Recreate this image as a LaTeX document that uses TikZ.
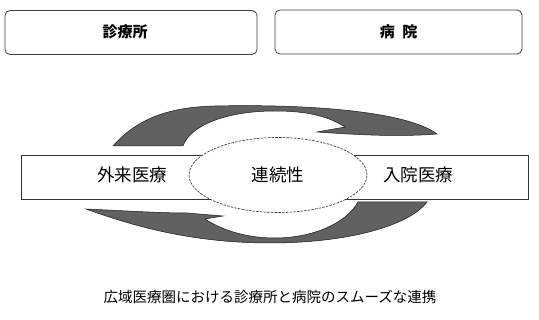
\documentclass[tikz,border=0pt]{standalone}
\usepackage{fontspec}
\usetikzlibrary{shapes.geometric}
\setmainfont{Noto Sans CJK JP}
\begin{document}
\begin{tikzpicture}[x=1pt,y=-1pt]
\useasboundingbox[fill=white] (0,0) rectangle (539,320);
\tikzset{
  topbox/.style={draw=black!75, line width=0.8pt, rounded corners=5pt, minimum height=44pt, inner sep=0pt},
  bandbox/.style={draw=black!80, line width=0.8pt, fill=white, minimum width=507pt, minimum height=44pt, inner sep=0pt},
  ovalbox/.style={ellipse, draw=black!85, line width=0.6pt, dash pattern=on 2.5pt off 1.2pt, fill=white, minimum width=178pt, minimum height=75pt, inner sep=0pt},
  arrowshape/.style={fill=black!62, draw=black!90, line width=0.5pt},
  headtxt/.style={font=\fontsize{15}{15}\selectfont\bfseries},
  midtxt/.style={font=\fontsize{17.5}{17.5}\selectfont},
  captxt/.style={font=\fontsize{14.5}{14.5}\selectfont},
}
% top boxes
\node[topbox, minimum width=252pt] (clinic) at (131,32.5) {};
\node[headtxt] (clinictxt) at (125,32) {診療所};
\node[topbox, minimum width=247pt, headtxt] (hospital) at (398.5,32) {病\hspace{0.5em}院};
% arrows
\path[arrowshape] (113,146) .. controls (135,121) and (165,107) .. (215,106)
  .. controls (300,104) and (405,110) .. (437,134)
  .. controls (400,137) and (360,135) .. (317,132)
  -- (345,127)
  .. controls (325,114) and (300,111) .. (275,111)
  .. controls (225,111) and (190,126) .. (183,146) -- cycle;
\path[arrowshape] (86,209) .. controls (130,211) and (160,213) .. (187,213)
  -- (223,216) -- (205,219)
  .. controls (225,232) and (250,238) .. (275,238)
  .. controls (310,238) and (345,225) .. (358,202)
  -- (427,202)
  .. controls (410,225) and (350,243) .. (270,243)
  .. controls (190,243) and (130,225) .. (86,209) -- cycle;
% band and oval
\node[bandbox] (band) at (274.5,177) {};
\node[ovalbox, midtxt] (cont) at (278,175) {連続性};
\node[midtxt] (outp) at (132,175) {外来医療};
\node[midtxt] (inp) at (418,175) {入院医療};
% caption
\node[captxt] (cap) at (270,297) {広域医療圏における診療所と病院のスムーズな連携};
\end{tikzpicture}
\end{document}
